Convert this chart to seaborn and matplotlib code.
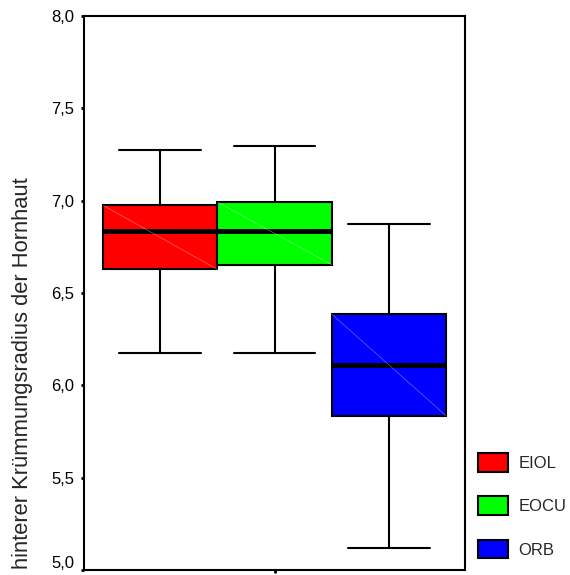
import numpy as np
import pandas as pd
import seaborn as sns
import matplotlib.pyplot as plt
from matplotlib.patches import Patch
from matplotlib.transforms import ScaledTranslation

# Five-number summaries (min, Q1, median, Q3, max) of the posterior corneal radius
groups = ["EIOL", "EOCU", "ORB"]
eiol = [6.173, 6.628, 6.838, 6.975, 7.276]
eocu = [6.173, 6.653, 6.836, 6.993, 7.294]
orb = [5.120, 5.836, 6.108, 6.386, 6.874]
colors = ["#ff0000", "#00ff00", "#0000ff"]

ytick_values = [5.0, 5.5, 6.0, 6.5, 7.0, 7.5, 8.0]
ytick_labels = ["5,0", "5,5", "6,0", "6,5", "7,0", "7,5", "8,0"]
ylabel = "hinterer Krümmungsradius der Hornhaut"

df = pd.DataFrame({
    "Gruppe": np.repeat(groups, 5),
    "Radius": eiol + eocu + orb,
    "Kategorie": "",
})
palette = dict(zip(groups, colors))

sns.set_style("white")
plt.rcParams["font.family"] = ["Liberation Sans", "DejaVu Sans"]

fig = plt.figure(figsize=(5.7, 5.75), dpi=100)
ax = fig.add_axes([84 / 570, 1 - 570 / 575, (465 - 84) / 570, (570 - 16) / 575])

sns.boxplot(
    data=df, x="Kategorie", y="Radius", hue="Gruppe", palette=palette,
    width=0.9, gap=0, saturation=1, linecolor="black", linewidth=1.5,
    whis=1.5, showfliers=False, legend=False, capwidths=0.214,
    medianprops=dict(linewidth=3.5, color="black"), ax=ax,
)

# thin light diagonal across each box
for p in list(ax.patches):
    v = p.get_path().vertices
    x0, x1 = v[:, 0].min(), v[:, 0].max()
    y0, y1 = v[:, 1].min(), v[:, 1].max()
    ax.plot([x0, x1], [y1, y0], color="white", alpha=0.35, lw=0.6, zorder=p.get_zorder() + 0.1)

ax.set_xlim(-0.5, 0.5)
ax.set_ylim(5.0, 8.0)
ax.set_yticks(ytick_values)
ax.set_yticklabels(ytick_labels)
ax.set_xticks([0])
ax.set_xticklabels([""])
ax.set_xlabel("")
ax.set_ylabel(ylabel, fontsize=15.8)
ax.yaxis.set_label_coords(-0.134, 0.3547)

ax.tick_params(axis="both", direction="out", length=2.5, width=2, color="black",
               labelsize=12, labelcolor="black", pad=4.5, left=True, bottom=True)
for s in ax.spines.values():
    s.set_visible(True)
    s.set_color("black")
    s.set_linewidth(1.5)

# lift the lowest tick label so it stays inside the figure
lowest = ax.get_yticklabels()[0]
lowest.set_transform(lowest.get_transform() + ScaledTranslation(0, 8.5 / 100, fig.dpi_scale_trans))

handles = [Patch(facecolor=c, edgecolor="black", linewidth=1.5, label=g)
           for g, c in zip(groups, colors)]
fig.legend(handles=handles, loc="upper left",
           bbox_to_anchor=(478.3 / 570, 1 - 452.7 / 575), bbox_transform=fig.transFigure,
           frameon=False, fontsize=12, handlelength=1.8, handleheight=1.36,
           labelspacing=1.48, handletextpad=0.62, borderpad=0, borderaxespad=0)

fig.savefig("out.png", dpi=100)
